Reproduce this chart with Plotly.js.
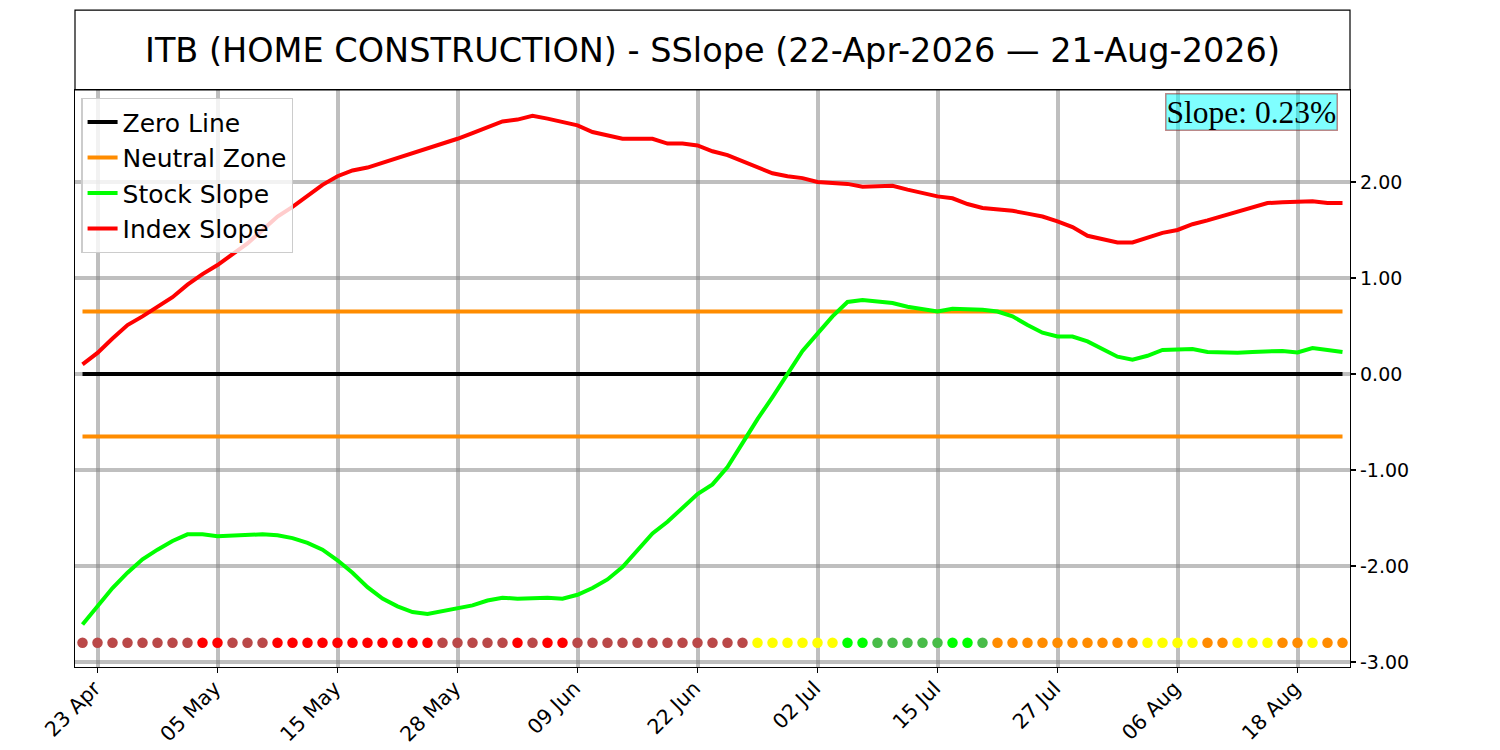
<!DOCTYPE html>
<html>
<head>
<meta charset="utf-8">
<script src="https://cdn.plot.ly/plotly-3.0.1.min.js"></script>
<style>
  html, body { margin: 0; padding: 0; background: white; }
  #chart { width: 1500px; height: 750px; }
</style>
</head>
<body>
<div id="chart"></div>
<script>
// Trading days 22-Apr-2026 .. 21-Aug-2026 (Memorial Day, Juneteenth, 3 Jul closed).
const DATES = [
  "2026-04-22", "2026-04-23", "2026-04-24", "2026-04-27", "2026-04-28", "2026-04-29", "2026-04-30",
  "2026-05-01", "2026-05-04", "2026-05-05", "2026-05-06", "2026-05-07", "2026-05-08", "2026-05-11",
  "2026-05-12", "2026-05-13", "2026-05-14", "2026-05-15", "2026-05-18", "2026-05-19", "2026-05-20",
  "2026-05-21", "2026-05-22", "2026-05-26", "2026-05-27", "2026-05-28", "2026-05-29",
  "2026-06-01", "2026-06-02", "2026-06-03", "2026-06-04", "2026-06-05", "2026-06-08", "2026-06-09",
  "2026-06-10", "2026-06-11", "2026-06-12", "2026-06-15", "2026-06-16", "2026-06-17", "2026-06-18",
  "2026-06-22", "2026-06-23", "2026-06-24", "2026-06-25", "2026-06-26", "2026-06-29", "2026-06-30",
  "2026-07-01", "2026-07-02", "2026-07-06", "2026-07-07", "2026-07-08", "2026-07-09", "2026-07-10",
  "2026-07-13", "2026-07-14", "2026-07-15", "2026-07-16", "2026-07-17", "2026-07-20", "2026-07-21",
  "2026-07-22", "2026-07-23", "2026-07-24", "2026-07-27", "2026-07-28", "2026-07-29", "2026-07-30",
  "2026-07-31", "2026-08-03", "2026-08-04", "2026-08-05", "2026-08-06", "2026-08-07", "2026-08-10",
  "2026-08-11", "2026-08-12", "2026-08-13", "2026-08-14", "2026-08-17", "2026-08-18", "2026-08-19",
  "2026-08-20", "2026-08-21",
];

const STOCK_SLOPE = [
  -2.61, -2.42, -2.23, -2.07, -1.93, -1.83, -1.74, -1.67, -1.67, -1.69,
  -1.68, -1.675, -1.67, -1.68, -1.71, -1.76, -1.83, -1.94, -2.07, -2.22,
  -2.34, -2.42, -2.48, -2.50, -2.47, -2.44, -2.41, -2.36, -2.33, -2.34,
  -2.33, -2.33, -2.34, -2.30, -2.23, -2.14, -2.01, -1.83, -1.66, -1.54,
  -1.40, -1.25, -1.15, -0.97, -0.72, -0.47, -0.24, 0.00, 0.24, 0.42,
  0.60, 0.75, 0.77, 0.755, 0.74, 0.70, 0.67, 0.65, 0.68, 0.68,
  0.67, 0.65, 0.60, 0.51, 0.43, 0.39, 0.39, 0.34, 0.26, 0.18,
  0.15, 0.19, 0.25, 0.255, 0.26, 0.23, 0.225, 0.22, 0.23, 0.24,
  0.24, 0.225, 0.27, 0.25, 0.23,
];

const INDEX_SLOPE = [
  0.10, 0.22, 0.37, 0.51, 0.60, 0.70, 0.80, 0.93, 1.04, 1.135,
  1.25, 1.36, 1.50, 1.64, 1.74, 1.86, 1.97, 2.06, 2.12, 2.15,
  2.20, 2.25, 2.29, 2.35, 2.40, 2.45, 2.51, 2.57, 2.63, 2.65,
  2.69, 2.66, 2.62, 2.59, 2.52, 2.48, 2.45, 2.45, 2.45, 2.40,
  2.40, 2.38, 2.32, 2.28, 2.22, 2.15, 2.09, 2.06, 2.04, 2.00,
  1.99, 1.98, 1.95, 1.96, 1.96, 1.92, 1.88, 1.85, 1.83, 1.77,
  1.73, 1.72, 1.70, 1.67, 1.64, 1.59, 1.53, 1.44, 1.40, 1.37,
  1.37, 1.42, 1.47, 1.50, 1.56, 1.60, 1.645, 1.69, 1.74, 1.78,
  1.79, 1.79, 1.80, 1.78, 1.78,
];

// Daily signal dots along the bottom: B=weak bear, R=bear, Y=neutral, G=bull, g=weak bull, O=caution
const SIGNALS = [
  "B", "B", "B", "B", "B", "B", "B", "B", "R", "R",
  "B", "B", "B", "R", "R", "R", "R", "R", "R", "R",
  "R", "R", "R", "R", "B", "B", "B", "B", "B", "R",
  "B", "R", "R", "B", "B", "B", "B", "B", "B", "B",
  "B", "B", "B", "B", "B", "Y", "Y", "Y", "Y", "Y",
  "Y", "G", "G", "g", "g", "g", "g", "g", "G", "G",
  "g", "O", "O", "O", "O", "O", "O", "O", "O", "O",
  "O", "Y", "Y", "Y", "Y", "O", "O", "Y", "Y", "Y",
  "O", "O", "Y", "O", "O",
];
const SIGNAL_COLOURS = {
  B: "#BA4848", R: "#FF0000", Y: "#FFFF00", G: "#00FF00", g: "#48BC48", O: "#FF8C00",
};
const SIGNAL_LEVEL = -2.8;

const NEUTRAL = 0.65;

const TICK_DATES = [
  "2026-04-23", "2026-05-05", "2026-05-15", "2026-05-28", "2026-06-09", "2026-06-22",
  "2026-07-02", "2026-07-15", "2026-07-27", "2026-08-06", "2026-08-18",
];
const TICK_LABELS = [
  "23 Apr", "05 May", "15 May", "28 May", "09 Jun", "22 Jun",
  "02 Jul", "15 Jul", "27 Jul", "06 Aug", "18 Aug",
];
const Y_TICKS = [-3, -2, -1, 0, 1, 2];

const TITLE = "ITB (HOME CONSTRUCTION) - SSlope (22-Apr-2026 — 21-Aug-2026)";

const first = DATES[0];
const last = DATES[DATES.length - 1];
const LW = 4;
const GRID = "rgba(128,128,128,0.5)";
const FONT = "DejaVu Sans, sans-serif";

const traces = [
  {
    name: "Zero Line", type: "scatter", mode: "lines",
    x: [first, last], y: [0, 0],
    line: { color: "black", width: LW },
  },
  {
    name: "Neutral Zone", type: "scatter", mode: "lines",
    x: [first, last, null, first, last],
    y: [NEUTRAL, NEUTRAL, null, -NEUTRAL, -NEUTRAL],
    line: { color: "#FF8C00", width: LW },
    connectgaps: false,
  },
  {
    name: "Stock Slope", type: "scatter", mode: "lines",
    x: DATES, y: STOCK_SLOPE,
    line: { color: "#00FF00", width: LW },
  },
  {
    name: "Index Slope", type: "scatter", mode: "lines",
    x: DATES, y: INDEX_SLOPE,
    line: { color: "#FF0000", width: LW },
  },
  {
    name: "Signal", type: "scatter", mode: "markers", showlegend: false,
    x: DATES, y: DATES.map(() => SIGNAL_LEVEL),
    marker: { size: 10.5, color: SIGNALS.map((s) => SIGNAL_COLOURS[s]), line: { width: 0 } },
  },
];

const layout = {
  width: 1500,
  height: 750,
  margin: { l: 75, r: 150, t: 90, b: 83 },
  paper_bgcolor: "white",
  plot_bgcolor: "white",
  font: { family: FONT, size: 20, color: "black" },
  showlegend: true,
  title: {
    text: TITLE,
    font: { family: FONT, size: 33.5, color: "black" },
    xref: "container", yref: "container",
    x: 0.475, xanchor: "center",
    y: 0.9333, yanchor: "middle",
  },
  xaxis: {
    type: "category",
    categoryorder: "array",
    categoryarray: DATES,
    range: [-0.5, DATES.length - 0.5],
    tickmode: "array",
    tickvals: TICK_DATES,
    ticktext: TICK_LABELS,
    tickangle: -45,
    tickfont: { family: FONT, size: 20.5, color: "black" },
    ticklabelstandoff: -5,
    ticklabelshift: -3,
    ticks: "outside",
    ticklen: 5,
    tickwidth: 1.2,
    tickcolor: "black",
    showline: true,
    mirror: true,
    linecolor: "black",
    linewidth: 1.2,
    showgrid: true,
    gridcolor: GRID,
    gridwidth: 4,
    zeroline: false,
    fixedrange: true,
  },
  yaxis: {
    side: "right",
    range: [-3.052, 2.958],
    tickmode: "array",
    tickvals: Y_TICKS,
    ticktext: Y_TICKS.map((v) => v.toFixed(2)),
    tickfont: { family: FONT, size: 19, color: "black" },
    ticks: "outside",
    ticklen: 5,
    tickwidth: 1.2,
    tickcolor: "black",
    showline: true,
    mirror: true,
    linecolor: "black",
    linewidth: 1.2,
    showgrid: true,
    gridcolor: GRID,
    gridwidth: 4,
    zeroline: false,
    fixedrange: true,
  },
  legend: {
    x: 0.005, y: 0.986,
    xanchor: "left", yanchor: "top",
    bgcolor: "rgba(255,255,255,0.8)",
    bordercolor: "#CCCCCC",
    borderwidth: 1.2,
    font: { family: FONT, size: 25, color: "black" },
    itemwidth: 30,
    tracegroupgap: 0,
  },
  shapes: [
    // Boxed title panel above the plot
    {
      type: "rect", xref: "paper", yref: "paper",
      x0: 0, x1: 1, y0: 1, y1: 1.1386,
      line: { color: "black", width: 1.2 },
      fillcolor: "rgba(0,0,0,0)",
    },
  ],
  annotations: [
    {
      xref: "paper", yref: "paper",
      x: 1, y: 1, xanchor: "right", yanchor: "top",
      xshift: -12, yshift: -3,
      text: `Slope: ${STOCK_SLOPE[STOCK_SLOPE.length - 1].toFixed(2)}%`,
      showarrow: false,
      font: { family: "Liberation Serif, Times New Roman, serif", size: 31.5, color: "black" },
      bgcolor: "rgba(0,255,255,0.5)",
      bordercolor: "rgba(150,20,20,0.5)",
      borderwidth: 1.5,
      borderpad: 0,
    },
  ],
};

Plotly.newPlot("chart", traces, layout, { displayModeBar: false, staticPlot: true });
</script>
</body>
</html>
